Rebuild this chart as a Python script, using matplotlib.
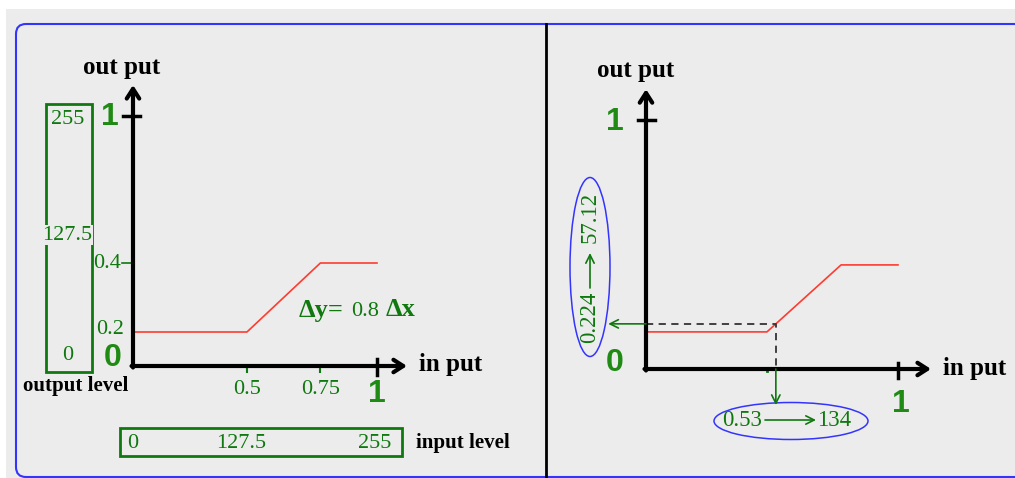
import numpy as np
import matplotlib
matplotlib.use('Agg')
import matplotlib.pyplot as plt
from matplotlib.patches import FancyBboxPatch, Rectangle, Ellipse

# ---------------- data ----------------
curve_x = [0.0, 0.5, 0.75, 1.0]
curve_y = [0.2, 0.2, 0.4, 0.4]
x_ticks = [0.5, 0.75]
x_tick_labels = ['0.5', '0.75']
y_ticks = [0.2, 0.4]
y_tick_labels = ['0.2', '0.4']
output_levels = ['255', '127.5', '0']
input_levels = ['0', '127.5', '255']
sample_in = 0.53
sample_out = 0.224
sample_in_level = '134'
sample_out_level = '57.12'
slope_label = '0.8'

# ---------------- styles ----------------
W, H = 1015, 478
GREEN = '#0f780f'
BIG_GREEN = '#1f8a14'
BLUE = '#3434ff'
RED = '#ff3b30'
BG = '#ececec'
SERIF = 'Liberation Serif'
SANS = 'Liberation Sans'

fig = plt.figure(figsize=(W / 100, H / 100), dpi=100, facecolor='white')
bg = fig.add_axes([0, 0, 1, 1])
bg.set_xlim(0, W)
bg.set_ylim(H, 0)
bg.axis('off')
bg.add_patch(Rectangle((6, 9), W, H, facecolor=BG, edgecolor='none'))
bg.add_patch(FancyBboxPatch((16, 24), 1200, 453,
                            boxstyle='round,pad=0,rounding_size=10',
                            facecolor='none', edgecolor=BLUE, lw=1.5))
bg.plot([546, 546], [24, H], color='black', lw=2)


def make_axes(px_left, px_bottom, px_w, px_h, xf, yf):
    ax = fig.add_axes([px_left / W, (H - px_bottom) / H, px_w / W, px_h / H])
    ax.patch.set_alpha(0)
    xd = [-1, 0, 0.5, 0.75, 1, 2]
    xm = [-1, 0, xf[0], xf[1], 1, 2]
    yd = [-1, 0, 0.2, 0.4, 1, 2]
    ym = [-1, 0, yf[0], yf[1], 1, 2]
    ax.set_xscale('function', functions=(lambda v: np.interp(v, xd, xm),
                                         lambda v: np.interp(v, xm, xd)))
    ax.set_yscale('function', functions=(lambda v: np.interp(v, yd, ym),
                                         lambda v: np.interp(v, ym, yd)))
    ax.set_xlim(0, 1)
    ax.set_ylim(0, 1)
    ax.axis('off')
    return ax


def draw_axes_arrows(ax, top_frac, right_frac):
    ap = dict(arrowstyle='->,head_length=0.7,head_width=0.45', lw=3,
              color='black', shrinkA=0, shrinkB=0)
    ax.annotate('', xy=(0, top_frac), xytext=(0, -0.006), xycoords='axes fraction',
                arrowprops=ap, annotation_clip=False)
    ax.annotate('', xy=(right_frac, 0), xytext=(-0.006, 0), xycoords='axes fraction',
                arrowprops=ap, annotation_clip=False)


# ---------------- left panel ----------------
axL = make_axes(133, 366, 244, 250, (0.467, 0.768), (0.136, 0.412))
draw_axes_arrows(axL, 1.124, 1.123)
axL.plot(curve_x, curve_y, color=RED, lw=1.2, clip_on=False)
axL.plot([-0.04, 0.03], [1, 1], color='black', lw=2.5, clip_on=False)
axL.plot([1, 1], [-0.036, 0.044], color='black', lw=2.5, clip_on=False)
for v, lab in zip(x_ticks, x_tick_labels):
    axL.plot([v, v], [0, -0.025], color=GREEN, lw=1.5, clip_on=False)
    axL.annotate(lab, xy=(v, 0), xytext=(0, -24), textcoords='offset pixels',
                 ha='center', va='center', color=GREEN, family=SERIF, fontsize=16,
                 annotation_clip=False)
axL.plot([-0.045, 0], [0.4, 0.4], color=GREEN, lw=1.2, clip_on=False)
axL.annotate(y_tick_labels[1], xy=(0, y_ticks[1]), xytext=(-26, 0), textcoords='offset pixels',
             ha='center', va='center', color=GREEN, family=SERIF, fontsize=16,
             annotation_clip=False)
axL.annotate(y_tick_labels[0], xy=(0, y_ticks[0]), xytext=(-23, 2), textcoords='offset pixels',
             ha='center', va='center', color=GREEN, family=SERIF, fontsize=16,
             annotation_clip=False)

bg.text(122, 67, 'out put', ha='center', va='center', family=SERIF,
        fontweight='bold', fontsize=18, color='black')
bg.text(419, 365, 'in put', ha='left', va='center', family=SERIF,
        fontweight='bold', fontsize=18, color='black')
bg.text(110, 117, '1', ha='center', va='center', family=SANS, fontweight='bold',
        fontsize=23, color=BIG_GREEN)
bg.text(113, 358, '0', ha='center', va='center', family=SANS, fontweight='bold',
        fontsize=23, color=BIG_GREEN)
bg.text(377, 394, '1', ha='center', va='center', family=SANS, fontweight='bold',
        fontsize=23, color=BIG_GREEN)

# output level box
bg.add_patch(Rectangle((46, 104), 46, 268, facecolor='none', edgecolor=GREEN, lw=2))
for lab, y in zip(output_levels, [119, 235, 355]):
    kw = {}
    if lab == '127.5':
        kw = dict(bbox=dict(facecolor=BG, edgecolor='none', pad=0.5))
    bg.text(68 if lab != '127.5' else 67, y, lab, ha='center', va='center', family=SERIF,
            fontsize=16, color=GREEN, **kw)
bg.text(76, 386, 'output level', ha='center', va='center', family=SERIF,
        fontweight='bold', fontsize=15, color='black')

# input level box
bg.add_patch(Rectangle((120, 428), 282, 28, facecolor='none', edgecolor=GREEN, lw=2))
for lab, x in zip(input_levels, [133, 241, 375]):
    bg.text(x, 443, lab, ha='center', va='center', family=SERIF, fontsize=16, color=GREEN)
bg.text(416, 443, 'input level', ha='left', va='center', family=SERIF,
        fontweight='bold', fontsize=15, color='black')

# slope label
bg.text(321, 310, '\u0394y=', ha='center', va='center', family=SERIF, fontweight='bold',
        fontsize=19, color=GREEN)
bg.text(365, 311, slope_label, ha='center', va='center', family=SERIF,
        fontsize=16, color=GREEN)
bg.text(401, 310, '\u0394x', ha='center', va='center', family=SERIF, fontweight='bold',
        fontsize=19, color=GREEN)

# ---------------- right panel ----------------
axR = make_axes(646, 369, 252, 249, (0.48, 0.774), (0.149, 0.418))
draw_axes_arrows(axR, 1.124, 1.131)
axR.plot(curve_x, curve_y, color=RED, lw=1.2, clip_on=False)
axR.plot([-0.032, 0.036], [1, 1], color='black', lw=2.5, clip_on=False)
axR.plot([1, 1], [-0.036, 0.032], color='black', lw=2.5, clip_on=False)
axR.plot([0.5, 0.5], [0, -0.01], color=GREEN, lw=2, clip_on=False)
axR.plot([0, sample_in, sample_in], [sample_out, sample_out, 0], color='#333333',
         lw=1.3, ls=(0, (4, 3)), clip_on=False)
gap = dict(arrowstyle='->,head_length=0.6,head_width=0.3', lw=1.2, color=GREEN,
           shrinkA=0, shrinkB=0)
axR.annotate('', xy=(-0.15, sample_out), xytext=(0, sample_out),
             xycoords=('axes fraction', 'data'), arrowprops=gap, annotation_clip=False)
axR.annotate('', xy=(sample_in, -0.145), xytext=(sample_in, 0),
             arrowprops=gap, annotation_clip=False)

bg.text(636, 70, 'out put', ha='center', va='center', family=SERIF,
        fontweight='bold', fontsize=18, color='black')
bg.text(943, 369, 'in put', ha='left', va='center', family=SERIF,
        fontweight='bold', fontsize=18, color='black')
bg.text(615, 122, '1', ha='center', va='center', family=SANS, fontweight='bold',
        fontsize=23, color=BIG_GREEN)
bg.text(615, 363, '0', ha='center', va='center', family=SANS, fontweight='bold',
        fontsize=23, color=BIG_GREEN)
bg.text(901, 404, '1', ha='center', va='center', family=SANS, fontweight='bold',
        fontsize=23, color=BIG_GREEN)

# vertical ellipse with output value
bg.add_patch(Ellipse((590, 267), 40, 179, facecolor='none', edgecolor=BLUE, lw=1.1))
bg.text(590, 317, f'{sample_out}', rotation=90, ha='center', va='center', family=SERIF,
        fontsize=16.5, color=GREEN)
bg.text(590, 217, sample_out_level, rotation=90, ha='center', va='center', family=SERIF,
        fontsize=16.5, color=GREEN)
bg.annotate('', xy=(590, 253), xytext=(590, 288), arrowprops=gap)

# horizontal ellipse with input value
bg.add_patch(Ellipse((791, 421), 154, 37, facecolor='none', edgecolor=BLUE, lw=1.1))
bg.text(742, 420, f'{sample_in}', ha='center', va='center', family=SERIF,
        fontsize=16.5, color=GREEN)
bg.text(834, 420, sample_in_level, ha='center', va='center', family=SERIF,
        fontsize=16.5, color=GREEN)
bg.annotate('', xy=(816, 420), xytext=(765, 420), arrowprops=gap)

fig.savefig('out.png', dpi=100, facecolor='white')
